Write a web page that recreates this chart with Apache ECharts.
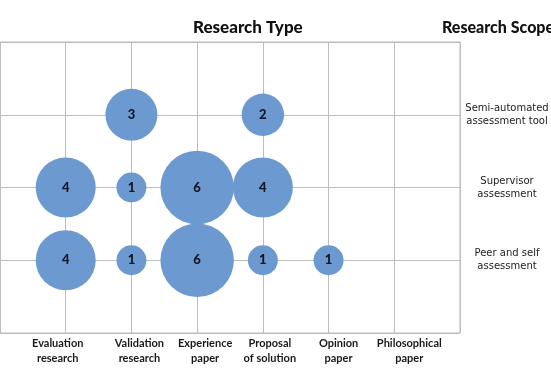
<!DOCTYPE html>
<html><head><meta charset="utf-8">
<script src="https://cdn.jsdelivr.net/npm/echarts@6/dist/echarts.min.js"></script>
<style>html,body{margin:0;padding:0;background:#fff}#c{width:551px;height:369px}</style>
</head><body><div id="c"></div>
<script>
const researchTypes = ['Evaluation\nresearch','Validation\nresearch','Experience\npaper','Proposal\nof solution','Opinion\npaper','Philosophical\npaper'];
const researchScopes = ['Peer and self\nassessment','Supervisor\nassessment','Semi-automated\nassessment tool'];
const peerSelf = [4, 1, 6, 1, 1, 0];
const supervisor = [4, 1, 6, 4, 0, 0];
const semiAutomated = [0, 3, 0, 2, 0, 0];
const labelShift = [-8, 8, 8, 7, 10, 15];

const rows = [peerSelf, supervisor, semiAutomated];
const points = [];
rows.forEach((row, r) => row.forEach((v, c) => { if (v > 0) points.push([c + 1, r + 1, v]); }));

const rich = {};
labelShift.forEach((s, i) => {
  rich['r' + i] = {
    fontFamily: 'Lato', fontWeight: 'bold', fontSize: 11, color: '#1a1a1a', lineHeight: 15,
    padding: s >= 0 ? [0, 0, 0, 2 * s] : [0, -2 * s, 0, 0]
  };
});

const chart = echarts.init(document.getElementById('c'));
chart.setOption({
  animation: false,
  backgroundColor: '#fff',
  title: [
    { text: 'Research Type', left: 188, top: 14, textStyle: { fontFamily: 'Lato', fontWeight: 900, fontSize: 17, color: '#111' } },
    { text: 'Research Scope', left: 437, top: 15, textStyle: { fontFamily: 'Lato', fontWeight: 900, fontSize: 16, color: '#111' } }
  ],
  grid: { left: 0, right: 91, top: 42, bottom: 36, containLabel: false, outerBoundsMode: 'none', show: true, borderColor: '#bdbdbd', borderWidth: 1, backgroundColor: '#fff' },
  xAxis: {
    type: 'value', min: 0, max: 7, interval: 1,
    axisLine: { show: false }, axisTick: { show: false },
    splitLine: { show: true, lineStyle: { color: '#bdbdbd', width: 1 } },
    axisLabel: {
      margin: 3, align: 'center', showMinLabel: true, showMaxLabel: true, hideOverlap: false,
      formatter: v => (v >= 1 && v <= 6) ? researchTypes[v - 1].split('\n').map(t => '{r' + (v - 1) + '|' + t + '}').join('\n') : '',
      rich: rich
    }
  },
  yAxis: {
    type: 'value', min: 0, max: 4, interval: 1, position: 'right',
    axisLine: { show: false }, axisTick: { show: false },
    splitLine: { show: true, lineStyle: { color: '#bdbdbd', width: 1 } },
    axisLabel: {
      margin: 47, align: 'center', fontFamily: 'DejaVu Sans', fontSize: 10, color: '#222', lineHeight: 13,
      formatter: v => (v >= 1 && v <= 3) ? researchScopes[v - 1] : ''
    }
  },
  series: [{
    type: 'scatter',
    data: points,
    symbolSize: d => 30 * Math.sqrt(d[2]),
    itemStyle: { color: '#6c99d0', opacity: 1 },
    label: {
      show: true, position: 'inside', formatter: p => p.data[2],
      fontFamily: 'Lato', fontWeight: 900, fontSize: 13, color: '#141425'
    }
  }]
});
</script></body></html>
